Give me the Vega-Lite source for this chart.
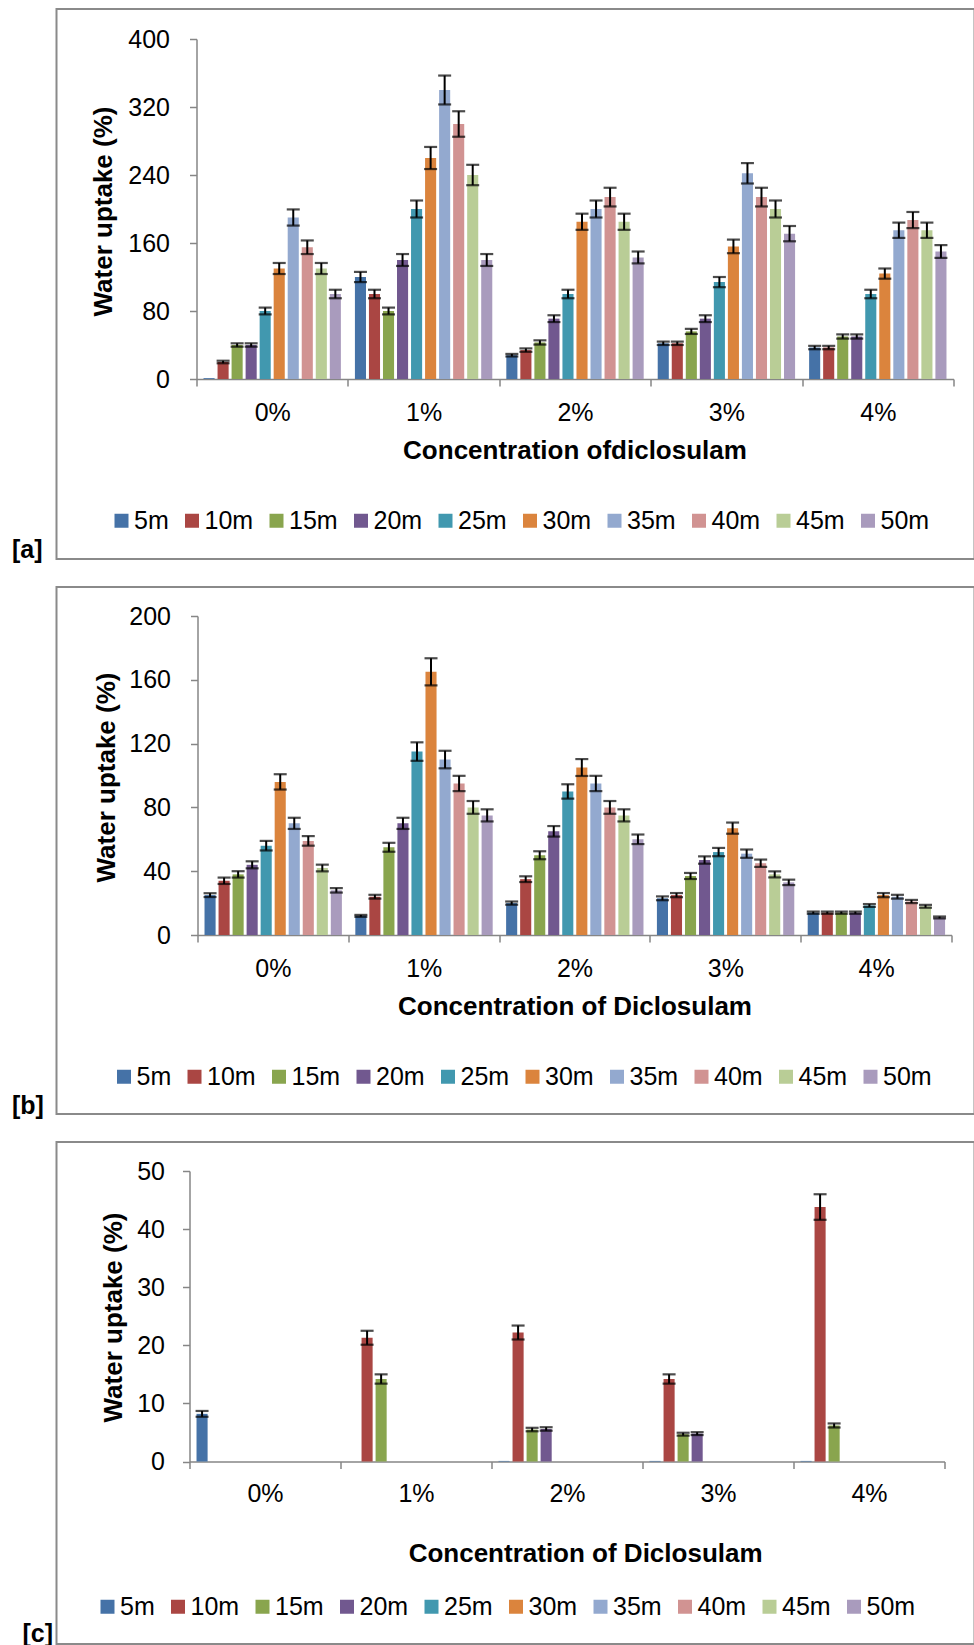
{
"$schema": "https://vega.github.io/schema/vega-lite/v6.json",
"background": "white",
"padding": {"left": 10.5, "top": 8, "right": 0, "bottom": 0},
"spacing": 28,
"bounds": "flush",
"resolve": {"legend": {"color": "independent"}},
"config": {"view": {"stroke": "#8a8a8a", "strokeWidth": 2}, "font": "Liberation Sans"},
"datasets": {
"a": [
{"c":"0%","t":"5m","v":1},
{"c":"0%","t":"10m","v":20,"lo":18.5,"hi":21.5},
{"c":"0%","t":"15m","v":40,"lo":38,"hi":42},
{"c":"0%","t":"20m","v":40,"lo":38,"hi":42},
{"c":"0%","t":"25m","v":80,"lo":76,"hi":84},
{"c":"0%","t":"30m","v":130,"lo":123.5,"hi":136.5},
{"c":"0%","t":"35m","v":190,"lo":180.5,"hi":199.5},
{"c":"0%","t":"40m","v":155,"lo":147,"hi":163},
{"c":"0%","t":"45m","v":130,"lo":123.5,"hi":136.5},
{"c":"0%","t":"50m","v":100,"lo":95,"hi":105},
{"c":"1%","t":"5m","v":120,"lo":114,"hi":126},
{"c":"1%","t":"10m","v":100,"lo":95,"hi":105},
{"c":"1%","t":"15m","v":80,"lo":76,"hi":84},
{"c":"1%","t":"20m","v":140,"lo":133,"hi":147},
{"c":"1%","t":"25m","v":200,"lo":190,"hi":210},
{"c":"1%","t":"30m","v":260,"lo":247,"hi":273},
{"c":"1%","t":"35m","v":340,"lo":323,"hi":357},
{"c":"1%","t":"40m","v":300,"lo":285,"hi":315},
{"c":"1%","t":"45m","v":240,"lo":228,"hi":252},
{"c":"1%","t":"50m","v":140,"lo":133,"hi":147},
{"c":"2%","t":"5m","v":28,"lo":26.5,"hi":29.5},
{"c":"2%","t":"10m","v":34,"lo":32,"hi":36},
{"c":"2%","t":"15m","v":43,"lo":40.5,"hi":45.5},
{"c":"2%","t":"20m","v":71,"lo":67,"hi":75},
{"c":"2%","t":"25m","v":100,"lo":95,"hi":105},
{"c":"2%","t":"30m","v":185,"lo":175.5,"hi":194.5},
{"c":"2%","t":"35m","v":200,"lo":190,"hi":210},
{"c":"2%","t":"40m","v":214,"lo":203,"hi":225},
{"c":"2%","t":"45m","v":185,"lo":175.5,"hi":194.5},
{"c":"2%","t":"50m","v":143,"lo":136,"hi":150},
{"c":"3%","t":"5m","v":42,"lo":40,"hi":44},
{"c":"3%","t":"10m","v":42,"lo":40,"hi":44},
{"c":"3%","t":"15m","v":56,"lo":53,"hi":59},
{"c":"3%","t":"20m","v":71,"lo":67,"hi":75},
{"c":"3%","t":"25m","v":114,"lo":108,"hi":120},
{"c":"3%","t":"30m","v":156,"lo":148,"hi":164},
{"c":"3%","t":"35m","v":242,"lo":230,"hi":254},
{"c":"3%","t":"40m","v":214,"lo":203,"hi":225},
{"c":"3%","t":"45m","v":200,"lo":190,"hi":210},
{"c":"3%","t":"50m","v":171,"lo":162,"hi":180},
{"c":"4%","t":"5m","v":37,"lo":35,"hi":39},
{"c":"4%","t":"10m","v":37,"lo":35,"hi":39},
{"c":"4%","t":"15m","v":50,"lo":47.5,"hi":52.5},
{"c":"4%","t":"20m","v":50,"lo":47.5,"hi":52.5},
{"c":"4%","t":"25m","v":100,"lo":95,"hi":105},
{"c":"4%","t":"30m","v":124,"lo":118,"hi":130},
{"c":"4%","t":"35m","v":175,"lo":166,"hi":184},
{"c":"4%","t":"40m","v":187,"lo":177.5,"hi":196.5},
{"c":"4%","t":"45m","v":175,"lo":166,"hi":184},
{"c":"4%","t":"50m","v":150,"lo":142.5,"hi":157.5}
],
"b": [
{"c":"0%","t":"5m","v":25,"lo":23.8,"hi":26.2},
{"c":"0%","t":"10m","v":34,"lo":32,"hi":36},
{"c":"0%","t":"15m","v":38,"lo":36,"hi":40},
{"c":"0%","t":"20m","v":44,"lo":41.8,"hi":46.2},
{"c":"0%","t":"25m","v":56,"lo":53,"hi":59},
{"c":"0%","t":"30m","v":96,"lo":91.2,"hi":100.8},
{"c":"0%","t":"35m","v":70,"lo":66.5,"hi":73.5},
{"c":"0%","t":"40m","v":59,"lo":56,"hi":62},
{"c":"0%","t":"45m","v":42,"lo":39.9,"hi":44.1},
{"c":"0%","t":"50m","v":28,"lo":26.6,"hi":29.4},
{"c":"1%","t":"5m","v":12,"lo":11.4,"hi":12.6},
{"c":"1%","t":"10m","v":24,"lo":22.8,"hi":25.2},
{"c":"1%","t":"15m","v":55,"lo":52.2,"hi":57.8},
{"c":"1%","t":"20m","v":70,"lo":66.5,"hi":73.5},
{"c":"1%","t":"25m","v":115,"lo":109.2,"hi":120.8},
{"c":"1%","t":"30m","v":165,"lo":156.5,"hi":173.5},
{"c":"1%","t":"35m","v":110,"lo":104.5,"hi":115.5},
{"c":"1%","t":"40m","v":95,"lo":90.2,"hi":99.8},
{"c":"1%","t":"45m","v":80,"lo":76,"hi":84},
{"c":"1%","t":"50m","v":75,"lo":71.2,"hi":78.8},
{"c":"2%","t":"5m","v":20,"lo":19,"hi":21},
{"c":"2%","t":"10m","v":35,"lo":33.2,"hi":36.8},
{"c":"2%","t":"15m","v":50,"lo":47.5,"hi":52.5},
{"c":"2%","t":"20m","v":65,"lo":61.7,"hi":68.3},
{"c":"2%","t":"25m","v":90,"lo":85.5,"hi":94.5},
{"c":"2%","t":"30m","v":105,"lo":99.7,"hi":110.3},
{"c":"2%","t":"35m","v":95,"lo":90.2,"hi":99.8},
{"c":"2%","t":"40m","v":80,"lo":76,"hi":84},
{"c":"2%","t":"45m","v":75,"lo":71.2,"hi":78.8},
{"c":"2%","t":"50m","v":60,"lo":57,"hi":63},
{"c":"3%","t":"5m","v":23,"lo":21.8,"hi":24.2},
{"c":"3%","t":"10m","v":25,"lo":23.7,"hi":26.3},
{"c":"3%","t":"15m","v":37,"lo":35.1,"hi":38.9},
{"c":"3%","t":"20m","v":47,"lo":44.7,"hi":49.3},
{"c":"3%","t":"25m","v":52,"lo":49.4,"hi":54.6},
{"c":"3%","t":"30m","v":67,"lo":63.5,"hi":70.5},
{"c":"3%","t":"35m","v":51,"lo":48.4,"hi":53.6},
{"c":"3%","t":"40m","v":45,"lo":42.7,"hi":47.3},
{"c":"3%","t":"45m","v":38,"lo":36.1,"hi":39.9},
{"c":"3%","t":"50m","v":33,"lo":31.3,"hi":34.7},
{"c":"4%","t":"5m","v":14,"lo":13.3,"hi":14.7},
{"c":"4%","t":"10m","v":14,"lo":13.3,"hi":14.7},
{"c":"4%","t":"15m","v":14,"lo":13.3,"hi":14.7},
{"c":"4%","t":"20m","v":14,"lo":13.3,"hi":14.7},
{"c":"4%","t":"25m","v":18.5,"lo":17.6,"hi":19.4},
{"c":"4%","t":"30m","v":25,"lo":23.7,"hi":26.3},
{"c":"4%","t":"35m","v":24,"lo":22.8,"hi":25.2},
{"c":"4%","t":"40m","v":21,"lo":20,"hi":22},
{"c":"4%","t":"45m","v":18,"lo":17.1,"hi":18.9},
{"c":"4%","t":"50m","v":11,"lo":10.4,"hi":11.6}
],
"c": [
{"c":"0%","t":"5m","v":8.2,"lo":7.7,"hi":8.7},
{"c":"1%","t":"10m","v":21.3,"lo":20.1,"hi":22.5},
{"c":"1%","t":"15m","v":14.2,"lo":13.4,"hi":15.0},
{"c":"2%","t":"5m","v":0.1},
{"c":"2%","t":"10m","v":22.2,"lo":21.0,"hi":23.4},
{"c":"2%","t":"15m","v":5.5,"lo":5.2,"hi":5.8},
{"c":"2%","t":"20m","v":5.6,"lo":5.3,"hi":5.9},
{"c":"3%","t":"5m","v":0.1},
{"c":"3%","t":"10m","v":14.2,"lo":13.4,"hi":15.0},
{"c":"3%","t":"15m","v":4.7,"lo":4.45,"hi":4.95},
{"c":"3%","t":"20m","v":4.8,"lo":4.55,"hi":5.05},
{"c":"4%","t":"5m","v":0.1},
{"c":"4%","t":"10m","v":43.8,"lo":41.6,"hi":46.0},
{"c":"4%","t":"15m","v":6.2,"lo":5.85,"hi":6.55}
]
},
"vconcat": [
{
"width": 918, "height": 550,
"title": {"text": "[a]", "orient": "bottom", "anchor": "start", "dx": -44.5, "dy": -21, "offset": 0, "fontSize": 25, "fontWeight": "bold", "font": "Liberation Sans", "color": "black"},
"data": {"name": "a"},
"encoding": {
"x": {"field": "c", "type": "nominal", "scale": {"range": [140, 897], "paddingInner": 0, "paddingOuter": 0},
 "axis": {"title": "Concentration ofdiclosulam", "offset": -180, "tickBand": "extent", "labelAngle": 0, "grid": false, "domainColor": "#868686", "domainWidth": 1.5, "tickColor": "#868686", "tickWidth": 1.5, "tickSize": 7, "labelFontSize": 25, "labelFont": "Liberation Sans", "labelColor": "black", "labelBaseline": "middle", "labelPadding": 26, "titleFontSize": 26, "titleFont": "Liberation Sans", "titleFontWeight": "bold", "titleColor": "black", "titleX": 518, "titleY": 71, "titleBaseline": "middle", "titleAlign": "center"}},
"xOffset": {"field": "t", "type": "nominal", "scale": {"domain": ["5m","10m","15m","20m","25m","30m","35m","40m","45m","50m"], "paddingInner": 0.21, "paddingOuter": 0.5}}
},
"layer": [
{"mark": {"type": "bar"},
 "encoding": {
  "y": {"field": "v", "type": "quantitative", "scale": {"domain": [0, 400], "range": [370, 30], "nice": false},
   "axis": {"title": "Water uptake (%)", "offset": -140, "values": [0, 80, 160, 240, 320, 400], "grid": false, "domainColor": "#868686", "domainWidth": 1.5, "tickColor": "#868686", "tickWidth": 1.5, "tickSize": 7, "labelFontSize": 25, "labelFont": "Liberation Sans", "labelColor": "black", "labelPadding": 20, "titleFontSize": 26, "titleFont": "Liberation Sans", "titleFontWeight": "bold", "titleColor": "black", "titleX": -93, "titleY": 202, "titleBaseline": "middle", "titleAngle": -90, "titleAlign": "center"}},
  "color": {"field": "t", "type": "nominal",
   "scale": {"domain": ["5m","10m","15m","20m","25m","30m","35m","40m","45m","50m"], "range": ["#4572A7","#AA4643","#89A54E","#71588F","#4198AF","#DB843D","#93A9CF","#D19392","#B9CD96","#A99BBD"]},
   "legend": {"orient": "none", "legendX": 52.5, "legendY": 499, "direction": "horizontal", "columns": 10, "gridAlign": "each", "title": null, "symbolType": "square", "symbolSize": 196, "symbolStrokeWidth": 0, "labelFontSize": 25, "labelFont": "Liberation Sans", "labelColor": "black", "labelOffset": 0, "columnPadding": 10.5, "padding": 0}}
 }},
{"mark": {"type": "rule", "color": "black", "strokeWidth": 2}, "encoding": {"y": {"field": "lo", "type": "quantitative"}, "y2": {"field": "hi"}}},
{"mark": {"type": "tick", "color": "black", "thickness": 2.2, "size": 13}, "encoding": {"y": {"field": "lo", "type": "quantitative"}}},
{"mark": {"type": "tick", "color": "black", "thickness": 2.2, "size": 13}, "encoding": {"y": {"field": "hi", "type": "quantitative"}}}
]
},
{
"width": 918, "height": 527,
"title": {"text": "[b]", "orient": "bottom", "anchor": "start", "dx": -44.5, "dy": -20, "offset": 0, "fontSize": 25, "fontWeight": "bold", "font": "Liberation Sans", "color": "black"},
"data": {"name": "b"},
"encoding": {
"x": {"field": "c", "type": "nominal", "scale": {"range": [141, 895], "paddingInner": 0, "paddingOuter": 0},
 "axis": {"title": "Concentration of Diclosulam", "offset": -179, "tickBand": "extent", "labelAngle": 0, "grid": false, "domainColor": "#868686", "domainWidth": 1.5, "tickColor": "#868686", "tickWidth": 1.5, "tickSize": 7, "labelFontSize": 25, "labelFont": "Liberation Sans", "labelColor": "black", "labelBaseline": "middle", "labelPadding": 26, "titleFontSize": 26, "titleFont": "Liberation Sans", "titleFontWeight": "bold", "titleColor": "black", "titleX": 518, "titleY": 71.5, "titleBaseline": "middle", "titleAlign": "center"}},
"xOffset": {"field": "t", "type": "nominal", "scale": {"domain": ["5m","10m","15m","20m","25m","30m","35m","40m","45m","50m"], "paddingInner": 0.21, "paddingOuter": 0.5}}
},
"layer": [
{"mark": {"type": "bar"},
 "encoding": {
  "y": {"field": "v", "type": "quantitative", "scale": {"domain": [0, 200], "range": [348, 29], "nice": false},
   "axis": {"title": "Water uptake (%)", "offset": -141, "values": [0, 40, 80, 120, 160, 200], "grid": false, "domainColor": "#868686", "domainWidth": 1.5, "tickColor": "#868686", "tickWidth": 1.5, "tickSize": 7, "labelFontSize": 25, "labelFont": "Liberation Sans", "labelColor": "black", "labelPadding": 20, "titleFontSize": 26, "titleFont": "Liberation Sans", "titleFontWeight": "bold", "titleColor": "black", "titleX": -91, "titleY": 190, "titleBaseline": "middle", "titleAngle": -90, "titleAlign": "center"}},
  "color": {"field": "t", "type": "nominal",
   "scale": {"domain": ["5m","10m","15m","20m","25m","30m","35m","40m","45m","50m"], "range": ["#4572A7","#AA4643","#89A54E","#71588F","#4198AF","#DB843D","#93A9CF","#D19392","#B9CD96","#A99BBD"]},
   "legend": {"orient": "none", "legendX": 55, "legendY": 477, "direction": "horizontal", "columns": 10, "gridAlign": "each", "title": null, "symbolType": "square", "symbolSize": 196, "symbolStrokeWidth": 0, "labelFontSize": 25, "labelFont": "Liberation Sans", "labelColor": "black", "labelOffset": 0, "columnPadding": 10.5, "padding": 0}}
 }},
{"mark": {"type": "rule", "color": "black", "strokeWidth": 2}, "encoding": {"y": {"field": "lo", "type": "quantitative"}, "y2": {"field": "hi"}}},
{"mark": {"type": "tick", "color": "black", "thickness": 2.2, "size": 13}, "encoding": {"y": {"field": "lo", "type": "quantitative"}}},
{"mark": {"type": "tick", "color": "black", "thickness": 2.2, "size": 13}, "encoding": {"y": {"field": "hi", "type": "quantitative"}}}
]
},
{
"width": 918, "height": 502,
"title": {"text": "[c]", "orient": "bottom", "anchor": "start", "dx": -34, "dy": -22, "offset": 0, "fontSize": 25, "fontWeight": "bold", "font": "Liberation Sans", "color": "black"},
"data": {"name": "c"},
"encoding": {
"x": {"field": "c", "type": "nominal", "scale": {"range": [133, 888], "paddingInner": 0, "paddingOuter": 0},
 "axis": {"title": "Concentration of Diclosulam", "offset": -182.5, "tickBand": "extent", "labelAngle": 0, "grid": false, "domainColor": "#868686", "domainWidth": 1.5, "tickColor": "#868686", "tickWidth": 1.5, "tickSize": 7, "labelFontSize": 25, "labelFont": "Liberation Sans", "labelColor": "black", "labelBaseline": "middle", "labelPadding": 25, "titleFontSize": 26, "titleFont": "Liberation Sans", "titleFontWeight": "bold", "titleColor": "black", "titleX": 528.6, "titleY": 91.5, "titleBaseline": "middle", "titleAlign": "center"}},
"xOffset": {"field": "t", "type": "nominal", "scale": {"domain": ["5m","10m","15m","20m","25m","30m","35m","40m","45m","50m"], "paddingInner": 0.21, "paddingOuter": 0.5}}
},
"layer": [
{"mark": {"type": "bar"},
 "encoding": {
  "y": {"field": "v", "type": "quantitative", "scale": {"domain": [0, 50], "range": [319.5, 29], "nice": false},
   "axis": {"title": "Water uptake (%)", "offset": -133, "values": [0, 10, 20, 30, 40, 50], "grid": false, "domainColor": "#868686", "domainWidth": 1.5, "tickColor": "#868686", "tickWidth": 1.5, "tickSize": 7, "labelFontSize": 25, "labelFont": "Liberation Sans", "labelColor": "black", "labelPadding": 18, "titleFontSize": 26, "titleFont": "Liberation Sans", "titleFontWeight": "bold", "titleColor": "black", "titleX": -76, "titleY": 175, "titleBaseline": "middle", "titleAngle": -90, "titleAlign": "center"}},
  "color": {"field": "t", "type": "nominal",
   "scale": {"domain": ["5m","10m","15m","20m","25m","30m","35m","40m","45m","50m"], "range": ["#4572A7","#AA4643","#89A54E","#71588F","#4198AF","#DB843D","#93A9CF","#D19392","#B9CD96","#A99BBD"]},
   "legend": {"orient": "none", "legendX": 38.5, "legendY": 452, "direction": "horizontal", "columns": 10, "gridAlign": "each", "title": null, "symbolType": "square", "symbolSize": 196, "symbolStrokeWidth": 0, "labelFontSize": 25, "labelFont": "Liberation Sans", "labelColor": "black", "labelOffset": 0, "columnPadding": 10.5, "padding": 0}}
 }},
{"mark": {"type": "rule", "color": "black", "strokeWidth": 2}, "encoding": {"y": {"field": "lo", "type": "quantitative"}, "y2": {"field": "hi"}}},
{"mark": {"type": "tick", "color": "black", "thickness": 2.2, "size": 13}, "encoding": {"y": {"field": "lo", "type": "quantitative"}}},
{"mark": {"type": "tick", "color": "black", "thickness": 2.2, "size": 13}, "encoding": {"y": {"field": "hi", "type": "quantitative"}}}
]
}
]
}
